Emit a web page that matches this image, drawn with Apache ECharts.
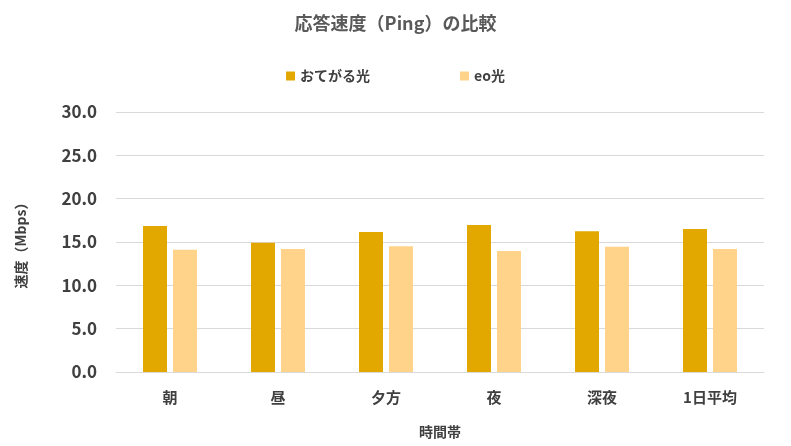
<!DOCTYPE html>
<html><head><meta charset="utf-8">
<script src="https://cdn.jsdelivr.net/npm/echarts@6/dist/echarts.min.js"></script>
<style>html,body{margin:0;padding:0;background:#fff}#c{width:791px;height:446px}</style>
</head><body><div id="c"></div>
<script>
const categories = ['朝','昼','夕方','夜','深夜','1日平均'];
const otegaru = [16.85, 14.9, 16.15, 16.95, 16.25, 16.5];
const eo = [14.1, 14.2, 14.5, 13.95, 14.45, 14.2];
const seriesNames = ['おてがる光','eo光'];
const font = '"Noto Sans CJK JP", sans-serif';
const chart = echarts.init(document.getElementById('c'));
chart.setOption({
  animation:false,
  title:{text:'応答速度（Ping）の比較',left:'center',top:9,textStyle:{fontFamily:font,fontSize:18,fontWeight:'bold',color:'#595959'}},
  legend:{top:64,left:'center',itemWidth:9,itemHeight:9,itemGap:90,icon:'rect',
    textStyle:{fontFamily:font,fontSize:14,fontWeight:'bold',color:'#404040'}},
  grid:{left:116,right:27,top:112,bottom:74},
  xAxis:{type:'category',data:categories,name:'時間帯',nameLocation:'middle',nameGap:53,
    nameTextStyle:{fontFamily:font,fontSize:14,fontWeight:'bold',color:'#404040'},
    axisLine:{lineStyle:{color:'#d9d9d9'}},axisTick:{show:false},
    axisLabel:{fontFamily:font,fontSize:15,fontWeight:'bold',color:'#404040',margin:18}},
  yAxis:{type:'value',min:0,max:30,interval:5,name:'速度（Mbps）',nameLocation:'middle',nameGap:88,
    nameTextStyle:{fontFamily:font,fontSize:14,fontWeight:'bold',color:'#404040'},
    axisLabel:{formatter:v=>v.toFixed(1),fontFamily:font,fontSize:17,fontWeight:'bold',color:'#404040',margin:19},
    splitLine:{lineStyle:{color:'#d9d9d9'}}},
  series:[
    {name:seriesNames[0],type:'bar',data:otegaru,barWidth:24,barGap:'25%',itemStyle:{color:'#E2A800'}},
    {name:seriesNames[1],type:'bar',data:eo,barWidth:24,itemStyle:{color:'#FFD38A'}}
  ]
});
</script></body></html>
